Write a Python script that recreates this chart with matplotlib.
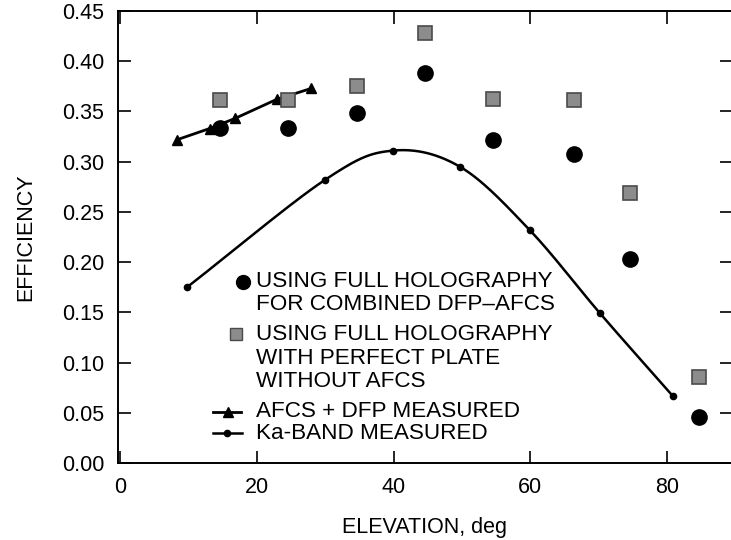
# Efficiency vs elevation

import numpy as np
import matplotlib.pyplot as plt

plt.rcParams['font.family'] = ['Liberation Sans', 'DejaVu Sans']

# data
holo_elev = [14.6, 24.6, 34.6, 44.6, 54.6, 66.4, 74.6, 84.7]
holo_dfp_afcs = [0.334, 0.334, 0.348, 0.388, 0.322, 0.308, 0.203, 0.046]
holo_perfect = [0.361, 0.361, 0.375, 0.428, 0.362, 0.361, 0.269, 0.086]

afcs_elev = [8.4, 13.1, 16.8, 22.9, 28.0]
afcs_eff = [0.322, 0.333, 0.343, 0.362, 0.373]

ka_elev = [9.8, 30.0, 39.9, 49.7, 59.9, 70.2, 80.8]
ka_eff = [0.175, 0.282, 0.311, 0.295, 0.232, 0.149, 0.067]

legend_labels = [
    ['USING FULL HOLOGRAPHY', 'FOR COMBINED DFP\u2013AFCS'],
    ['USING FULL HOLOGRAPHY', 'WITH PERFECT PLATE', 'WITHOUT AFCS'],
    ['AFCS + DFP MEASURED'],
    ['Ka-BAND MEASURED'],
]


def smooth(x, y, n=30):
    # catmull-rom curve through the measured points (drawing only)
    x = np.asarray(x, float)
    y = np.asarray(y, float)
    px = np.concatenate([[2 * x[0] - x[1]], x, [2 * x[-1] - x[-2]]])
    py = np.concatenate([[2 * y[0] - y[1]], y, [2 * y[-1] - y[-2]]])
    t = np.linspace(0, 1, n)[:, None]
    xs, ys = [], []
    for i in range(1, len(px) - 2):
        for p, out in ((px, xs), (py, ys)):
            p0, p1, p2, p3 = p[i - 1], p[i], p[i + 1], p[i + 2]
            out.append(0.5 * (2 * p1 + (-p0 + p2) * t
                              + (2 * p0 - 5 * p1 + 4 * p2 - p3) * t ** 2
                              + (-p0 + 3 * p1 - 3 * p2 + p3) * t ** 3).ravel())
    return np.concatenate(xs), np.concatenate(ys)


fig = plt.figure(figsize=(7.31, 5.40), dpi=100)
W, H = 731, 540
ax = fig.add_axes([118 / W, (H - 463) / H, (732 - 118) / W, (463 - 11) / H])

ax.plot(holo_elev, holo_dfp_afcs, 'o', color='black', markersize=11, zorder=4)
ax.plot(holo_elev, holo_perfect, 's', markerfacecolor='#8c8c8c',
        markeredgecolor='#4a4a4a', markeredgewidth=1.2, markersize=10, zorder=4)
ax.plot(afcs_elev, afcs_eff, '-^', color='black', linewidth=2, markersize=6.5, zorder=3)
sx, sy = smooth(ka_elev, ka_eff)
ax.plot(sx, sy, '-', color='black', linewidth=1.8, zorder=3)
ax.plot(ka_elev, ka_eff, 'o', color='black', markersize=4.5, zorder=3)

ax.set_xlim(-0.3, 89.5)
ax.set_ylim(0, 0.45)
ax.set_xticks([0, 20, 40, 60, 80])
ax.set_yticks(np.arange(0, 0.451, 0.05))
ax.set_yticklabels(['%.2f' % v for v in np.arange(0, 0.451, 0.05)])
ax.tick_params(direction='in', length=9, width=1.2, labelsize=15.5,
               top=True, right=True, pad=10)
for s in ax.spines.values():
    s.set_linewidth(1.4)

ax.set_xlabel('ELEVATION, deg', fontsize=15.5, labelpad=14)
ax.set_ylabel('EFFICIENCY', fontsize=15.5, labelpad=18)

# legend drawn by hand so the symbol sits on the first text line
def fx(p):
    return (p - 118) / 614


def fy(p):
    return (463 - p) / 452


tr = ax.transAxes
line_y = [[281.7, 305.0], [334.0, 358.3, 381.7], [411.7], [433.3]]
for lines, ys in zip(legend_labels, line_y):
    for txt, yy in zip(lines, ys):
        ax.text(fx(256), fy(yy), txt, transform=tr, fontsize=16.2,
                va='center', ha='left')

ax.plot([fx(242.7)], [fy(281.7)], 'o', color='black', markersize=10, transform=tr)
ax.plot([fx(236)], [fy(334)], 's', markerfacecolor='#8c8c8c',
        markeredgecolor='#4a4a4a', markersize=8, transform=tr)
ax.plot([fx(213), fx(241)], [fy(411.7)] * 2, '-', color='black', linewidth=2, transform=tr)
ax.plot([fx(228)], [fy(411.7)], '^', color='black', markersize=6.5, transform=tr)
ax.plot([fx(213), fx(242)], [fy(433.3)] * 2, '-', color='black', linewidth=1.8, transform=tr)
ax.plot([fx(227)], [fy(433.3)], 'o', color='black', markersize=4.5, transform=tr)

fig.savefig('out.png', dpi=100)
